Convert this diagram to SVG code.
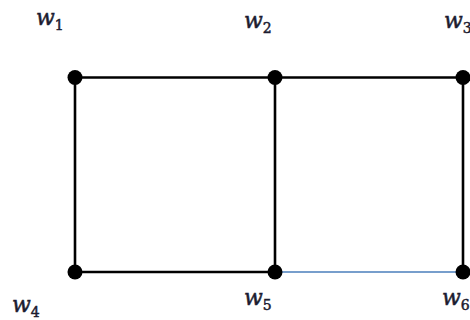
<svg xmlns="http://www.w3.org/2000/svg" width="470" height="320" viewBox="0 0 470 320">
<style>
.e{stroke:#000;stroke-width:2.6;fill:none}
.b{stroke:#4a7ebb;stroke-width:1.6;fill:none}
.n{fill:#000}
.l{font-family:"DejaVu Serif","Liberation Serif",serif;font-style:italic;font-size:22px;fill:#1c1c30;stroke:#1c1c30;stroke-width:0.5}
.s{font-style:normal;font-size:14px}
</style>
<rect width="470" height="320" fill="#fff"/>
<g id="edges">
<line class="e" x1="75" y1="77.5" x2="463" y2="77.5"/>
<line class="e" x1="75" y1="272" x2="275" y2="272"/>
<line class="b" x1="275" y1="272" x2="463" y2="272"/>
<line class="e" x1="75" y1="77.5" x2="75" y2="272"/>
<line class="e" x1="275" y1="77.5" x2="275" y2="272"/>
<line class="e" x1="463" y1="77.5" x2="463" y2="272"/>
</g>
<g id="w1"><circle class="n" cx="75" cy="77.5" r="7.5"/><text class="l" x="36" y="25">w<tspan class="s" dy="5">1</tspan></text></g>
<g id="w2"><circle class="n" cx="275" cy="77.5" r="7.5"/><text class="l" x="244" y="28">w<tspan class="s" dy="5">2</tspan></text></g>
<g id="w3"><circle class="n" cx="463" cy="77.5" r="7.5"/><text class="l" x="444" y="28">w<tspan class="s" dy="5">3</tspan></text></g>
<g id="w4"><circle class="n" cx="75" cy="272" r="7.5"/><text class="l" x="12" y="312">w<tspan class="s" dy="5">4</tspan></text></g>
<g id="w5"><circle class="n" cx="275" cy="272" r="7.5"/><text class="l" x="244" y="305">w<tspan class="s" dy="5">5</tspan></text></g>
<g id="w6"><circle class="n" cx="463" cy="272" r="7.5"/><text class="l" x="442" y="305">w<tspan class="s" dy="5">6</tspan></text></g>
</svg>
